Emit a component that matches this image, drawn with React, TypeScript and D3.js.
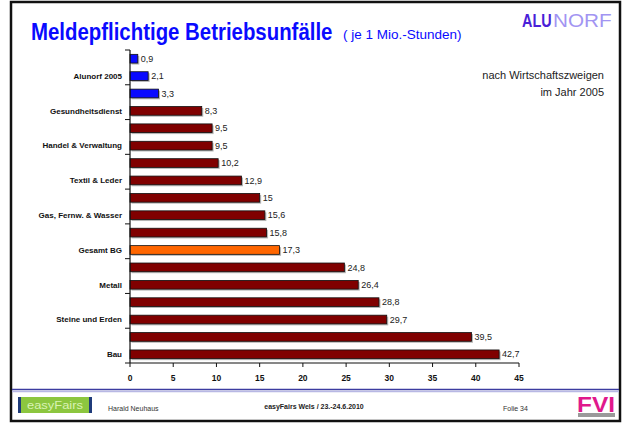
import * as d3 from "d3";

// bars top to bottom; only every second row carries a label in the original
const categories = [
  "", "Alunorf 2005", "", "Gesundheitsdienst", "", "Handel & Verwaltung",
  "", "Textil & Leder", "", "Gas, Fernw. & Wasser", "", "Gesamt BG",
  "", "Metall", "", "Steine und Erden", "", "Bau",
];
const values = [
  0.9, 2.1, 3.3, 8.3, 9.5, 9.5, 10.2, 12.9, 15, 15.6, 15.8, 17.3, 24.8, 26.4,
  28.8, 29.7, 39.5, 42.7,
];
const groups = [
  "alunorf", "alunorf", "alunorf", "bg", "bg", "bg", "bg", "bg", "bg", "bg",
  "bg", "gesamt", "bg", "bg", "bg", "bg", "bg", "bg",
];
const xTicks = [0, 5, 10, 15, 20, 25, 30, 35, 40, 45];

const COLORS: Record<string, string> = {
  alunorf: "#0a0aff",
  bg: "#800000",
  gesamt: "#ff6600",
};

const W = 624;
const H = 423;
const FONT = "'Liberation Sans', Arial, sans-serif";

export default function App() {
  const x = d3.scaleLinear().domain([0, 45]).range([130, 519]);
  const y = d3
    .scaleBand<number>()
    .domain(values.map((_, i) => i))
    .range([50, 363])
    .paddingInner(0.5)
    .paddingOuter(0.25);
  const step = y.step();
  const y0 = 50;
  const y1 = 363;
  const fmt = (v: number) => String(v).replace(".", ",");

  return (
    <svg
      width={W}
      height={H}
      style={{ position: "absolute", left: 0, top: 0, background: "#fff" }}
      fontFamily={FONT}
    >
      {/* slide frame */}
      <rect x={11} y={2} width={609} height={419} fill="#fff" stroke="#111" strokeWidth={2.5} />

      {/* title + unit (title squeezed a bit like the slide) */}
      <text transform="translate(31,40) scale(0.85,1)" fill="#0a0aff" fontWeight="bold" fontSize={24}>
        Meldepflichtige Betriebsunfälle
      </text>
      <text x={343} y={39} fill="#0a0aff" fontSize={13.5}>
        ( je 1 Mio.-Stunden)
      </text>

      {/* ALUNORF logo */}
      <text transform="translate(522,27) scale(0.8,1)" fill="#4a1fd8" fontWeight={900} fontSize={18}>
        ALU
      </text>
      <text transform="translate(553,27) scale(1.15,1)" fill="#a294f2" fontSize={18}>
        NORF
      </text>

      {/* note */}
      <text x={604} y={79} textAnchor="end" fontSize={11} fill="#222">
        nach Wirtschaftszweigen
      </text>
      <text x={604} y={96} textAnchor="end" fontSize={11} fill="#222">
        im Jahr 2005
      </text>

      {/* bars */}
      {values.map((v, i) => {
        const by = y(i)!;
        const bh = y.bandwidth();
        const bw = x(v) - x(0);
        return (
          <g key={i}>
            <rect x={x(0) + 1.5} y={by + 1.5} width={bw} height={bh} fill="#b5b5b5" />
            <rect x={x(0)} y={by} width={bw} height={bh} fill={COLORS[groups[i]]} stroke="#111" strokeWidth={0.8} />
            <text x={x(v) + 3} y={by + bh / 2} dy="0.35em" fontSize={9} fill="#222">
              {fmt(v)}
            </text>
            {categories[i] && (
              <text x={122} y={by + bh / 2} dy="0.35em" textAnchor="end" fontSize={8} fontWeight="bold" fill="#111">
                {categories[i]}
              </text>
            )}
          </g>
        );
      })}

      {/* y axis */}
      <line x1={130} x2={130} y1={y0} y2={y1} stroke="#111" strokeWidth={1.2} />
      {d3.range(0, values.length + 1, 2).map((k) => (
        <line key={k} x1={125} x2={130} y1={y0 + k * step} y2={y0 + k * step} stroke="#111" strokeWidth={1} />
      ))}

      {/* x axis */}
      <line x1={x(0)} x2={x(45)} y1={y1} y2={y1} stroke="#111" strokeWidth={1.2} />
      {xTicks.map((t) => (
        <g key={t}>
          <line x1={x(t)} x2={x(t)} y1={y1} y2={y1 + 4} stroke="#111" strokeWidth={1} />
          <text x={x(t)} y={381} textAnchor="middle" fontSize={8.5} fontWeight="bold" fill="#111">
            {t}
          </text>
        </g>
      ))}

      {/* footer */}
      <line x1={12} x2={619} y1={389.5} y2={389.5} stroke="#3c3ca0" strokeWidth={1.5} />
      <line x1={12} x2={619} y1={391.5} y2={391.5} stroke="#b8b8e4" strokeWidth={1.5} />

      <rect x={18} y={397} width={74} height={16} fill="#8cc63f" />
      <rect x={18} y={397} width={3} height={16} fill="#1f3b7a" />
      <rect x={89} y={397} width={3} height={16} fill="#1f3b7a" />
      <text x={55} y={408.5} textAnchor="middle" fontSize={10} fill="#d9f2b4" textLength={56} lengthAdjust="spacingAndGlyphs">
        easyFairs
      </text>

      <text x={108} y={411} fontSize={7} fill="#333">
        Harald Neuhaus
      </text>
      <text x={314} y={409} textAnchor="middle" fontSize={7} fontWeight="bold" fill="#222">
        easyFairs Wels / 23.-24.6.2010
      </text>
      <text x={503} y={411} fontSize={7} fill="#333">
        Folie 34
      </text>

      {/* FVI logo */}
      <text x={577} y={412} fill="#e0188c" fontWeight="bold" fontSize={22} textLength={38} lengthAdjust="spacingAndGlyphs">
        FVI
      </text>
      <rect x={578} y={413} width={37} height={4} fill="#9a9a9a" />
    </svg>
  );
}
